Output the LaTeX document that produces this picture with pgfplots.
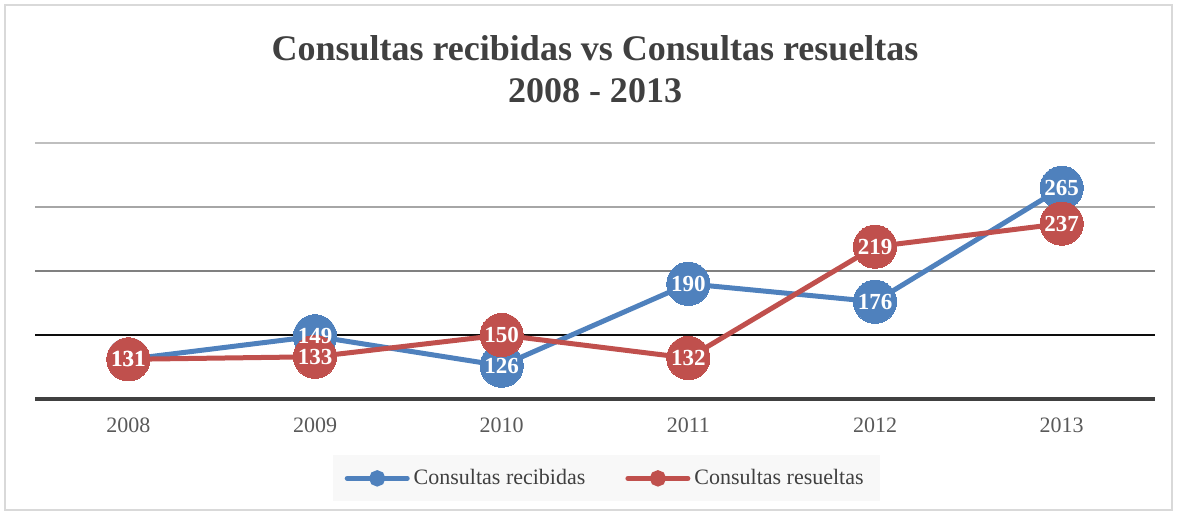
\documentclass[border=0pt]{standalone}
\usepackage{fontspec}
\setmainfont{Liberation Serif}
\usepackage{pgfplots}
\pgfplotsset{compat=1.18}
\definecolor{SerBlue}{HTML}{4F81BD}
\definecolor{SerRed}{HTML}{C0504D}
\definecolor{TxtGray}{HTML}{404040}
\definecolor{TickGray}{HTML}{595959}
\definecolor{FrameGray}{HTML}{D9D9D9}
\definecolor{LegFill}{HTML}{F8F8F8}
\definecolor{GridA}{HTML}{BFBFBF}
\definecolor{GridB}{HTML}{A6A6A6}
\definecolor{GridC}{HTML}{808080}
\definecolor{GridD}{HTML}{0D0D0D}

\begin{document}
\begin{tikzpicture}
\begin{axis}[
  scale only axis,
  width=560pt,
  height=128pt,
  xmin=-0.5, xmax=5.5,
  ymin=100, ymax=300,
  clip=false,
  axis line style={draw=none},
  xtick={0,1,2,3,4,5},
  xticklabels={2008,2009,2010,2011,2012,2013},
  major tick length=0pt,
  ytick=\empty,
  xticklabel style={font=\fontsize{11}{13}\selectfont, text=TickGray, yshift=-6pt},
  legend style={at={(0.51,-0.31)}, anchor=center, fill=LegFill, draw=none,
    font=\fontsize{11}{13}\selectfont, text=TxtGray,
    inner xsep=6pt, inner ysep=5pt,
    /tikz/every even column/.append style={column sep=18pt}},
  legend columns=2,
  legend image code/.code={
    \draw[#1, line width=2.5pt, line cap=round] (0pt,0pt) -- (30pt,0pt);
    \fill[#1] (15pt,0pt) circle (2.8pt);
  },
  every node near coord/.append style={anchor=center, text=white,
    font=\bfseries\fontsize{11.5}{11.5}\selectfont},
]
% gridlines, getting darker downwards
\draw[GridA, line width=0.9pt] (axis cs:-0.5,300) -- (axis cs:5.5,300);
\draw[GridB, line width=0.9pt] (axis cs:-0.5,250) -- (axis cs:5.5,250);
\draw[GridC, line width=0.9pt] (axis cs:-0.5,200) -- (axis cs:5.5,200);
\draw[GridD, line width=0.9pt] (axis cs:-0.5,150) -- (axis cs:5.5,150);
\draw[TxtGray, line width=1.6pt] (axis cs:-0.5,100) -- (axis cs:5.5,100);

\addplot[color=SerBlue, line width=2.5pt, mark=*, mark size=10.8pt,
  mark options={line width=0pt}] coordinates {
  (0,131) (1,149) (2,126) (3,190) (4,176) (5,265)
};
\addlegendentry{Consultas recibidas}
\addplot[color=SerRed, line width=2.5pt, mark=*, mark size=10.8pt,
  mark options={line width=0pt}] coordinates {
  (0,131) (1,133) (2,150) (3,132) (4,219) (5,237)
};
\addlegendentry{Consultas resueltas}

% value labels on top of all markers
\addplot[draw=none, mark=none, forget plot,
  nodes near coords={\pgfmathprintnumber[assume math mode=true]{\pgfplotspointmeta}}] coordinates {
  (0,131) (1,149) (2,126) (3,190) (4,176) (5,265)
};
\addplot[draw=none, mark=none, forget plot,
  nodes near coords={\pgfmathprintnumber[assume math mode=true]{\pgfplotspointmeta}}] coordinates {
  (0,131) (1,133) (2,150) (3,132) (4,219) (5,237)
};

\coordinate (sw) at (rel axis cs:0,0);
\coordinate (ne) at (rel axis cs:1,1);
\coordinate (tt) at (rel axis cs:0.5,1);
\end{axis}
\node[font=\bfseries\fontsize{18}{21}\selectfont, text=TxtGray, align=center]
  at ([yshift=37pt]tt) {Consultas recibidas vs Consultas resueltas\\2008 - 2013};
\draw[FrameGray, line width=1pt] ([xshift=-15pt,yshift=-55.5pt]sw) rectangle ([xshift=8.5pt,yshift=69pt]ne);
\useasboundingbox ([xshift=-17.5pt,yshift=-57pt]sw) rectangle ([xshift=11pt,yshift=71.5pt]ne);
\end{tikzpicture}
\end{document}
